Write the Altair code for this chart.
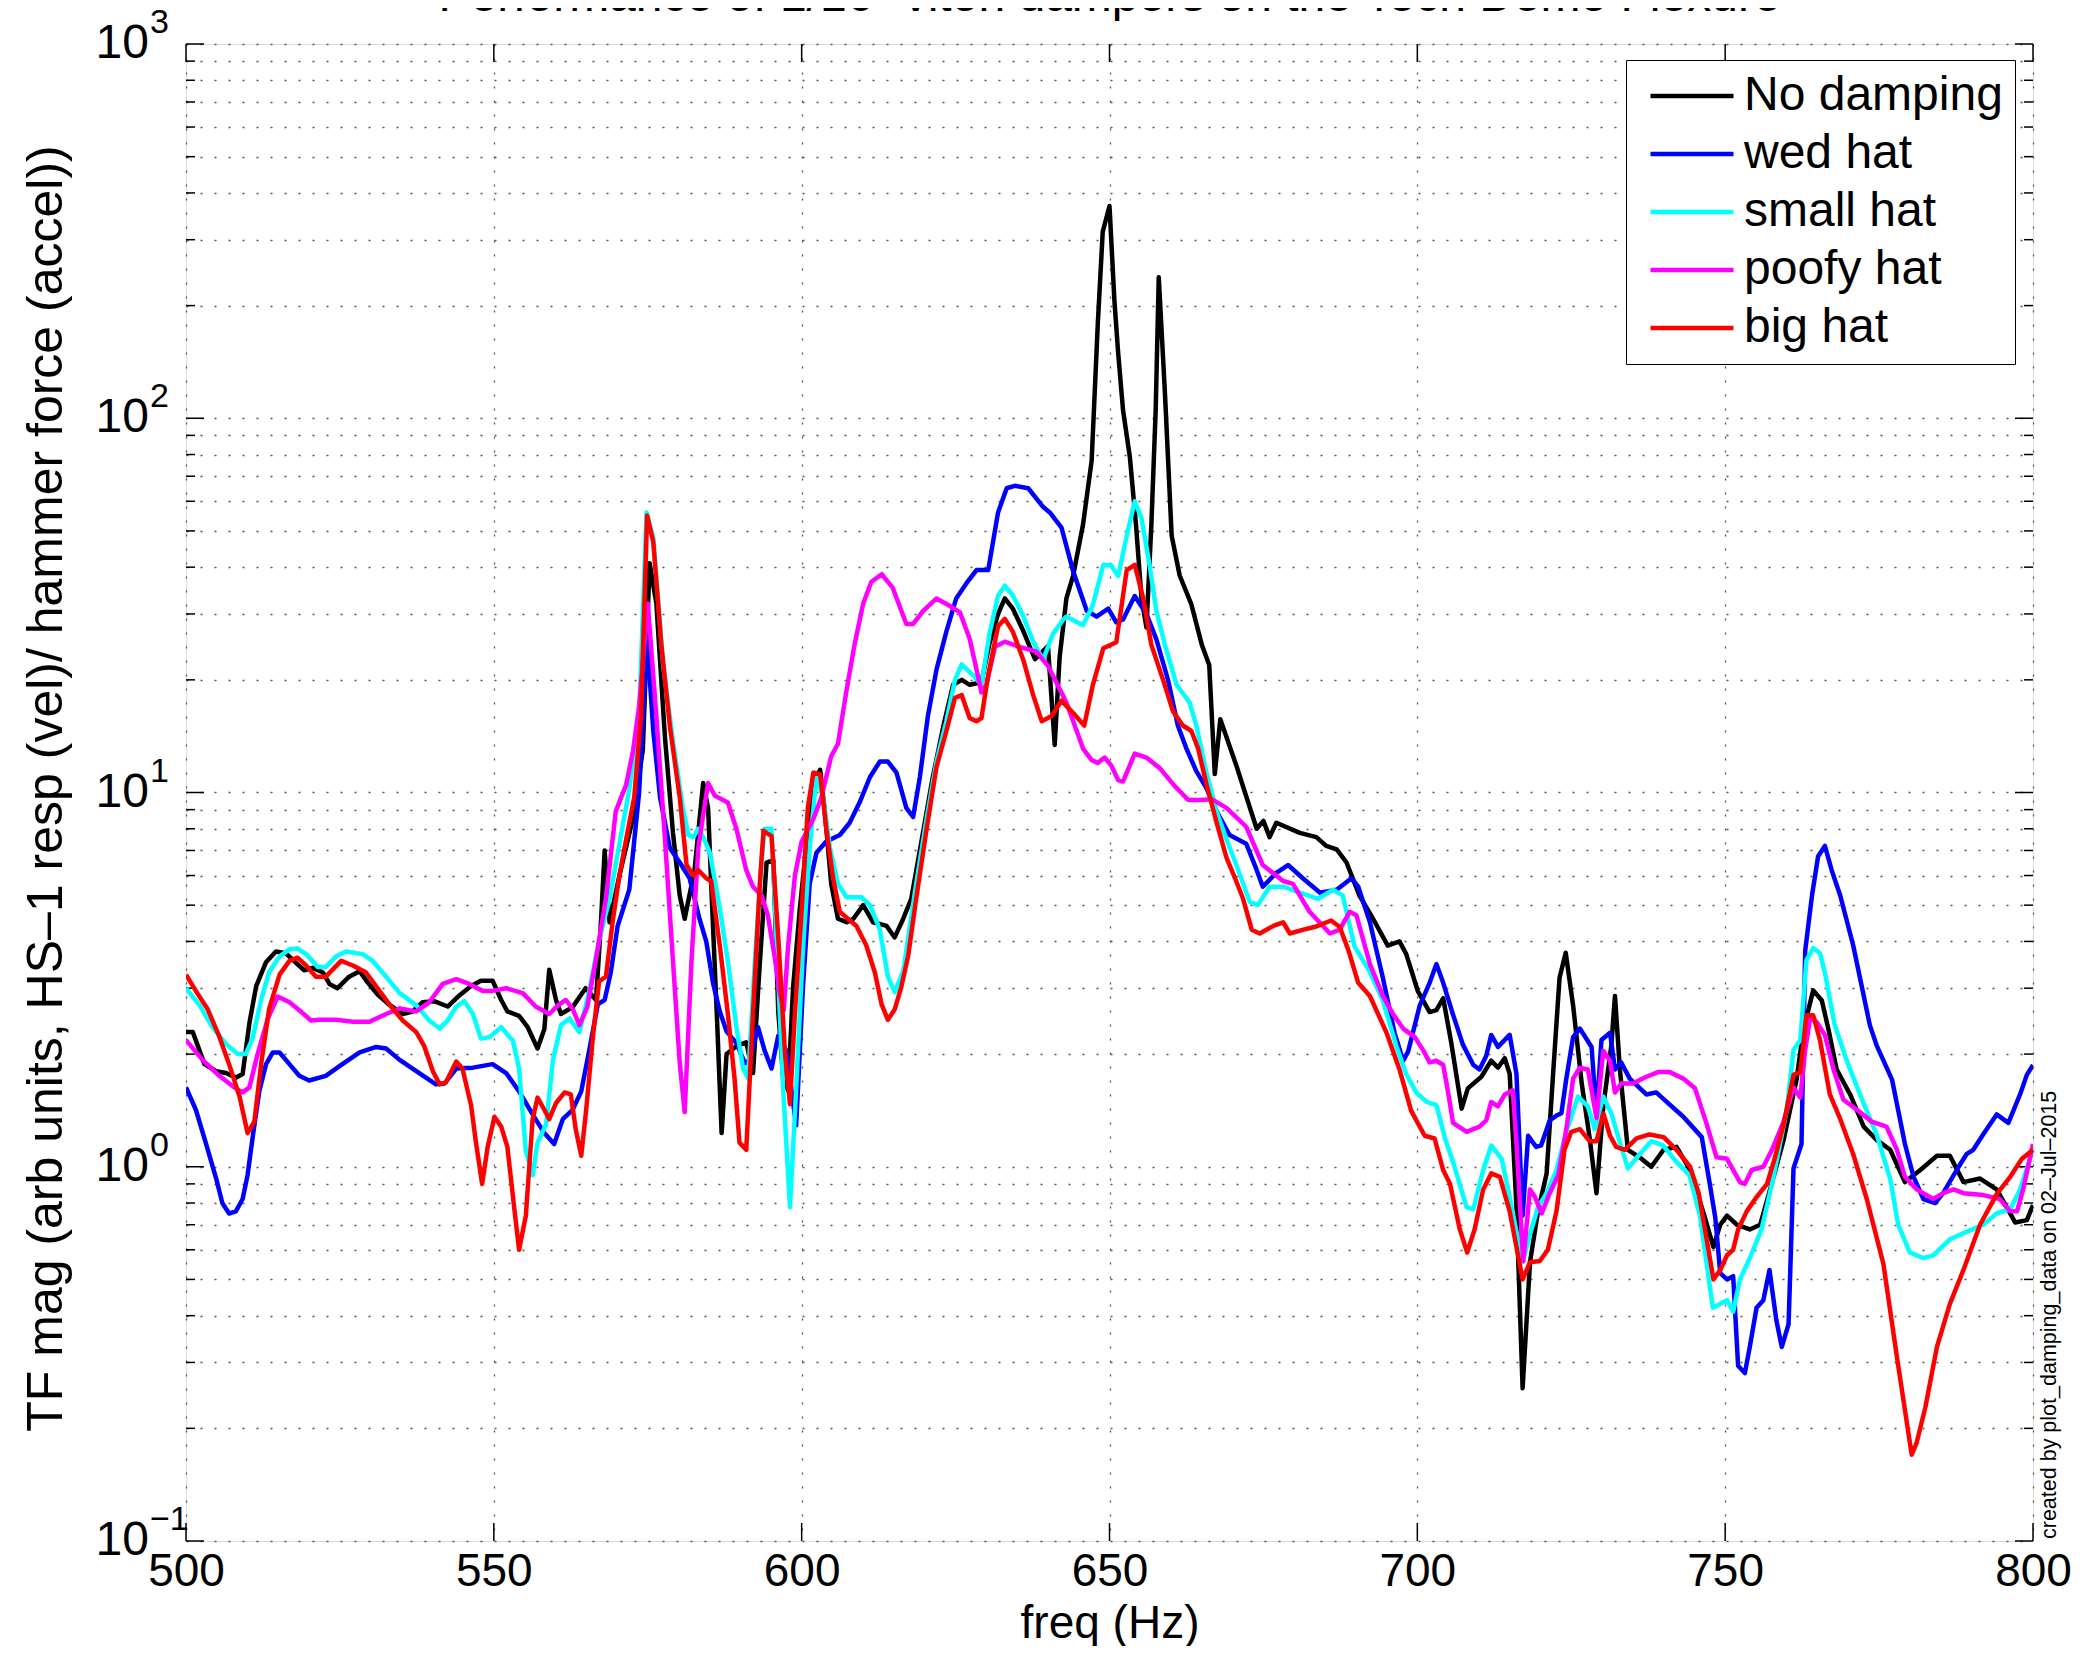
import altair as alt
import pandas as pd

FONT = "Liberation Sans"

title_text = "Performance of 1/16\" viton dampers on the Tech Demo Flexure"
x_title = "freq (Hz)"
y_title = "TF mag (arb units, HS\u20131 resp (vel)/ hammer force (accel))"
stamp_text = "created by plot_damping_data on 02\u2013Jul\u20132015"

series_names = ["No damping", "wed hat", "small hat", "poofy hat", "big hat"]
series_colors = ["#000000", "#0000ff", "#00ffff", "#ff00ff", "#ff0000"]

x_ticks = [500, 550, 600, 650, 700, 750, 800]
y_major = [0.1, 1, 10, 100, 1000]
y_exps = ["\u22121", "0", "1", "2", "3"]
y_minor = [m * d for d in [0.1, 1, 10, 100] for m in [2, 3, 4, 5, 6, 7, 8, 9]]

black_f = [500, 501.1, 503, 504.9, 506.5, 508.1, 509.2, 510.3, 511.4, 513, 514.6, 516.2, 517.9, 519.2, 520.6, 522.2, 523.3, 524.6, 526.5, 528.2, 529.5, 531.1, 533.0, 535.2, 536.8, 538.4, 540.3, 542.5, 544.4, 546.3, 547.9, 549.8, 551.2, 552.2, 554.1, 555.5, 557.1, 558.2, 559.0, 560.1, 560.9, 562.8, 564.9, 566.6, 567.4, 568.0, 568.8, 570.4, 572.5, 574.2, 575.3, 576.4, 577.8, 579.1, 580.2, 581.0, 582.6, 584.0, 584.8, 585.3, 586.2, 587.0, 587.8, 589.4, 591.0, 592.1, 593.2, 594.3, 595.4, 596.2, 597.0, 597.8, 598.6, 599.7, 600.8, 601.9, 603.0, 603.7, 604.8, 605.9, 607.3, 608.4, 610.0, 611.6, 613.8, 615.1, 616.5, 617.8, 619.7, 621.3, 623.0, 624.6, 626.0, 627.3, 629.2, 630.5, 631.9, 633.0, 634.3, 636.0, 637.9, 640.0, 641.1, 641.9, 643.0, 644.1, 645.7, 647.1, 648.1, 648.9, 650.0, 650.8, 651.4, 652.2, 653.3, 654.3, 655.2, 656.0, 656.8, 657.5, 658.0, 659.0, 660.1, 661.4, 663.3, 665.0, 666.2, 667.1, 668.0, 670.6, 673.9, 675.0, 676.0, 677.1, 680.9, 683.6, 685.2, 686.9, 688.5, 690.6, 692.8, 695.2, 697.1, 698.2, 700.1, 702.0, 703.1, 704.2, 705.5, 707.2, 708.2, 710.4, 712.0, 713.1, 714.2, 715.0, 716.1, 717.1, 718.3, 719.6, 721.0, 722.1, 723.1, 724.1, 725.3, 726.7, 728.0, 729.1, 730.2, 731.5, 732.1, 732.9, 734.2, 736.1, 738.0, 740.0, 742.1, 744.3, 746.5, 748.1, 749.2, 750.3, 751.9, 754.0, 755.7, 757.3, 759.5, 761.6, 762.7, 764.3, 765.7, 766.8, 768.1, 770.3, 772.5, 774.6, 776.8, 779.2, 781.7, 784.4, 786.5, 788.7, 791.4, 794.1, 797.1, 799.0, 800.0]
black_v = [2.29, 2.29, 1.88, 1.80, 1.78, 1.73, 1.77, 2.42, 3.04, 3.52, 3.76, 3.72, 3.5, 3.35, 3.4, 3.31, 3.08, 3.0, 3.22, 3.33, 3.11, 2.89, 2.71, 2.56, 2.6, 2.75, 2.77, 2.68, 2.87, 3.04, 3.14, 3.14, 2.79, 2.6, 2.53, 2.36, 2.07, 2.33, 3.36, 2.79, 2.56, 2.67, 3.0, 2.79, 4.5, 7.0, 4.5, 6.0, 8.4, 13, 41, 32, 14, 7.8, 5.3, 4.6, 6.2, 10.6, 9.1, 5.7, 2.6, 1.23, 2.0, 2.1, 2.15, 1.78, 3.5, 6.5, 6.6, 2.6, 1.72, 1.6, 3.0, 4.9, 7.3, 10.6, 11.5, 9.1, 5.7, 4.6, 4.5, 4.6, 5.0, 4.5, 4.4, 4.1, 4.6, 5.2, 7.8, 11, 15, 19.4, 20, 19.4, 19.7, 25, 30, 33, 31, 27, 22.7, 24.6, 13.4, 23, 33, 38, 52, 77, 179, 315, 369, 206, 150, 105, 79, 52, 33, 27.6, 52, 105, 238, 117, 48.5, 38, 31.8, 24.8, 21.9, 11.2, 15.7, 11.8, 8.0, 8.4, 7.6, 8.3, 7.8, 7.6, 7.2, 7.05, 6.5, 5.3, 4.6, 3.9, 4.0, 3.7, 2.94, 2.59, 2.62, 2.82, 2.15, 1.43, 1.62, 1.74, 1.92, 1.84, 1.95, 1.77, 0.78, 0.256, 0.556, 0.76, 0.96, 1.82, 3.2, 3.73, 2.7, 1.67, 1.19, 0.85, 1.45, 2.1, 2.86, 1.82, 1.11, 1.06, 1.0, 1.11, 1.13, 0.98, 0.75, 0.61, 0.70, 0.74, 0.70, 0.68, 0.70, 0.87, 1.18, 1.71, 2.32, 2.96, 2.78, 2.32, 1.82, 1.56, 1.28, 1.18, 1.11, 0.91, 0.98, 1.07, 1.07, 0.91, 0.93, 0.87, 0.71, 0.72, 0.79]

blue_f = [500, 501.6, 503.2, 504.9, 505.9, 507.0, 508.1, 509.2, 510.0, 510.8, 511.9, 513.0, 514.1, 515.2, 516.8, 518.4, 520.0, 522.7, 525.4, 528.2, 530.9, 532.5, 534.7, 537.4, 540.6, 542.0, 543.9, 546.6, 549.8, 552.0, 554.1, 556.3, 558.2, 559.8, 561.2, 562.8, 564.2, 565.5, 566.9, 568.0, 569.0, 570.1, 572.0, 573.6, 574.9, 575.9, 577.0, 578.6, 580.2, 581.8, 583.4, 584.5, 585.6, 586.7, 587.8, 589.4, 590.8, 591.6, 592.9, 594.0, 595.1, 596.2, 597.5, 599.1, 600.2, 601.3, 602.4, 604.0, 606.2, 607.8, 609.4, 611.1, 612.7, 614.0, 615.4, 617.0, 618.1, 619.2, 620.5, 621.9, 623.5, 625.1, 626.8, 628.4, 630.3, 631.9, 633.3, 634.6, 636.8, 639.2, 640.3, 642.2, 644.1, 646.3, 647.9, 649.8, 651.1, 652.2, 654.1, 656.0, 657.6, 659.5, 661.1, 662.5, 664.1, 665.7, 667.4, 669.5, 672.2, 673.6, 674.9, 677.1, 679.0, 681.4, 684.2, 686.9, 689.3, 690.4, 692.3, 694.4, 696.3, 697.7, 698.5, 700.4, 702.0, 703.1, 704.2, 705.8, 707.4, 709.1, 710.1, 711.2, 712.0, 713.1, 715.0, 716.1, 717.1, 718.0, 719.3, 720.1, 721.5, 722.6, 723.4, 724.2, 725.3, 726.4, 728.3, 729.1, 729.9, 731.3, 732.1, 733.1, 734.5, 737.2, 738.8, 740.5, 743.2, 746.2, 747.5, 748.4, 749.2, 750.3, 751.3, 752.1, 753.2, 754.0, 755.1, 756.2, 757.2, 758.3, 759.2, 760.3, 761.1, 762.4, 763.0, 764.1, 765.1, 766.2, 767.3, 768.7, 770.8, 773.5, 774.6, 777.1, 779.2, 780.6, 782.2, 784.1, 785.4, 787.6, 789.2, 790.3, 791.9, 794.1, 796.0, 797.9, 799.0, 800.0]
blue_v = [1.63, 1.42, 1.16, 0.93, 0.80, 0.75, 0.76, 0.82, 0.95, 1.19, 1.59, 1.88, 2.02, 2.02, 1.88, 1.75, 1.70, 1.75, 1.88, 2.02, 2.09, 2.07, 1.93, 1.8, 1.66, 1.67, 1.83, 1.84, 1.88, 1.78, 1.59, 1.38, 1.23, 1.15, 1.34, 1.42, 1.59, 2.05, 2.72, 2.79, 3.31, 4.39, 5.5, 10, 25.7, 14.6, 9.7, 7.1, 6.5, 5.9, 4.6, 4.0, 3.1, 2.6, 2.3, 2.14, 1.89, 1.93, 2.36, 2.04, 1.83, 2.24, 2.04, 1.29, 3.0, 5.7, 6.9, 7.4, 7.7, 8.3, 9.4, 11, 12.1, 12.1, 11.3, 9.1, 8.6, 11, 16, 21.3, 26.9, 33, 36.3, 39.3, 39.3, 56, 65, 66, 65, 58, 56, 51, 39, 30.6, 29.5, 31, 28.5, 29, 33.5, 30, 25.7, 20, 15.1, 13.1, 11.4, 10.3, 8.9, 7.7, 7.3, 6.4, 5.6, 6.1, 6.4, 5.9, 5.4, 5.5, 5.9, 5.6, 4.5, 3.2, 2.28, 1.92, 2.03, 2.7, 3.1, 3.48, 3.1, 2.55, 2.12, 1.87, 1.82, 1.98, 2.25, 2.09, 2.25, 1.77, 0.74, 1.21, 1.13, 1.14, 1.33, 1.37, 1.39, 1.72, 2.22, 2.34, 2.09, 1.37, 2.18, 2.28, 1.82, 1.9, 1.72, 1.56, 1.58, 1.49, 1.36, 1.2, 0.9, 0.73, 0.52, 0.5, 0.51, 0.294, 0.281, 0.33, 0.42, 0.44, 0.53, 0.39, 0.33, 0.38, 0.99, 1.15, 3.78, 5.3, 6.76, 7.2, 6.2, 5.3, 3.9, 2.39, 2.11, 1.71, 1.15, 0.94, 0.82, 0.8, 0.85, 0.98, 1.08, 1.11, 1.22, 1.38, 1.31, 1.56, 1.76, 1.87]

cyan_f = [500, 502.2, 504.3, 506.5, 508.4, 509.7, 510.8, 512.2, 513.5, 515.2, 516.8, 518.1, 519.5, 521.4, 522.7, 524.4, 526.0, 528.7, 530.3, 532.5, 534.7, 537.4, 539.5, 541.2, 542.5, 543.9, 545.2, 546.6, 547.9, 549.3, 551.2, 553.1, 554.1, 555.2, 556.3, 557.1, 558.5, 559.6, 560.9, 562.3, 563.9, 565.5, 567.1, 568.8, 570.4, 572.0, 573.6, 574.8, 575.9, 577.5, 579.1, 580.7, 581.6, 582.4, 583.2, 584.0, 585.1, 586.7, 588.0, 589.4, 590.5, 591.3, 592.4, 593.5, 594.0, 595.1, 595.9, 597.0, 598.1, 599.1, 600.2, 601.3, 602.4, 603.5, 604.6, 605.9, 607.3, 609.7, 611.1, 612.7, 614.0, 615.1, 616.5, 617.5, 618.6, 620.3, 621.9, 623.5, 624.9, 626.0, 627.8, 629.2, 630.5, 631.9, 633.0, 634.3, 636.0, 637.6, 639.2, 640.8, 642.5, 643.0, 645.7, 647.3, 649.0, 650.3, 651.4, 652.8, 654.1, 655.2, 656.5, 657.6, 659.0, 660.9, 663.0, 664.1, 665.7, 667.4, 669.0, 670.6, 672.8, 674.1, 676.0, 678.2, 680.9, 683.9, 686.3, 687.9, 689.8, 692.3, 694.4, 696.6, 698.2, 699.8, 701.5, 703.1, 704.5, 705.8, 708.0, 709.1, 710.7, 712.0, 713.7, 715.0, 716.1, 717.1, 718.3, 719.6, 721.0, 722.6, 724.2, 726.1, 727.7, 728.8, 730.2, 731.5, 732.9, 734.2, 736.1, 738.0, 739.9, 742.1, 744.2, 745.9, 748.0, 750.3, 751.3, 752.4, 754.0, 755.9, 757.8, 760.0, 761.1, 762.2, 763.2, 764.3, 765.4, 766.2, 767.8, 769.7, 771.9, 774.6, 776.8, 778.1, 780.0, 782.2, 783.8, 786.5, 789.2, 791.9, 794.1, 796.3, 797.9, 799.5, 800.0]
cyan_v = [3.0, 2.7, 2.36, 2.13, 2.0, 2.0, 2.2, 2.79, 3.31, 3.65, 3.81, 3.83, 3.7, 3.42, 3.42, 3.65, 3.76, 3.7, 3.55, 3.22, 2.91, 2.7, 2.46, 2.34, 2.46, 2.68, 2.77, 2.56, 2.2, 2.22, 2.36, 2.17, 1.83, 1.1, 0.95, 1.16, 1.3, 1.93, 2.39, 2.49, 2.29, 2.95, 4.03, 5.2, 7.3, 10.2, 16, 56, 48, 22, 13.7, 9.1, 7.7, 7.6, 8.0, 7.6, 6.9, 4.9, 3.55, 2.36, 1.83, 1.72, 3.55, 6.6, 8.0, 8.0, 4.1, 1.61, 0.78, 1.61, 3.8, 7.1, 11, 9.7, 7.1, 5.7, 5.25, 5.25, 5.0, 4.3, 3.22, 2.93, 3.33, 4.3, 5.7, 8.5, 12.1, 15.5, 20, 22, 20.6, 19.4, 26.5, 33.6, 35.7, 33.6, 29.6, 25.3, 22.6, 26.5, 29, 29.5, 28, 31.7, 40.6, 40.4, 37.9, 48.5, 60, 54, 40.6, 30.6, 24.8, 19.4, 17.4, 15.1, 11.4, 8.9, 7.5, 6.4, 5.1, 5.0, 5.6, 5.6, 5.4, 5.2, 5.5, 5.3, 3.88, 3.31, 2.78, 2.1, 1.77, 1.58, 1.49, 1.46, 1.19, 1.03, 0.78, 0.77, 0.98, 1.14, 1.05, 0.83, 0.67, 0.556, 0.66, 0.78, 0.85, 0.98, 1.24, 1.54, 1.45, 1.26, 1.54, 1.39, 1.16, 0.99, 1.08, 1.17, 1.14, 1.03, 0.95, 0.74, 0.42, 0.44, 0.41, 0.5, 0.57, 0.68, 0.93, 1.42, 2.05, 2.18, 3.56, 3.84, 3.72, 3.3, 2.39, 1.93, 1.56, 1.22, 0.93, 0.70, 0.59, 0.57, 0.58, 0.64, 0.67, 0.70, 0.75, 0.77, 0.87, 1.05, 1.11]

magenta_f = [500, 502.7, 505.4, 507.6, 509.2, 510.3, 511.6, 513.3, 514.9, 516.8, 518.4, 520.3, 521.7, 524.4, 527.1, 529.8, 532.5, 534.7, 537.4, 539.5, 541.7, 543.9, 546.0, 548.2, 549.8, 552.0, 554.7, 556.8, 559.0, 560.4, 561.7, 562.8, 563.9, 565.2, 566.6, 568.2, 569.8, 571.5, 572.6, 573.6, 575.0, 576.4, 577.8, 579.1, 580.2, 581.0, 582.1, 583.2, 584.8, 585.9, 588.0, 589.4, 591.0, 592.1, 593.5, 594.5, 595.6, 596.4, 597.1, 597.8, 598.9, 600.0, 601.9, 603.2, 604.8, 605.9, 607.3, 608.6, 610.0, 611.3, 613.0, 614.8, 617.0, 618.1, 619.7, 621.9, 624.1, 625.7, 627.3, 628.4, 629.2, 630.0, 631.4, 633.0, 635.4, 638.1, 640.0, 643.0, 645.7, 647.1, 648.1, 649.2, 650.3, 651.4, 652.2, 654.1, 656.0, 658.2, 660.6, 662.8, 664.7, 666.6, 669.0, 672.2, 674.9, 678.2, 679.8, 682.5, 685.8, 687.4, 689.0, 690.1, 692.3, 694.4, 696.1, 697.7, 699.6, 701.0, 702.0, 703.1, 704.2, 705.0, 705.8, 708.0, 710.1, 711.2, 712.0, 713.1, 714.2, 715.5, 716.1, 717.2, 718.3, 719.1, 720.2, 721.5, 722.9, 724.2, 725.3, 726.4, 727.7, 729.1, 730.2, 731.3, 732.1, 733.1, 735.0, 737.2, 739.1, 741.0, 743.2, 745.1, 747.0, 748.6, 750.3, 752.4, 753.2, 754.3, 756.2, 757.6, 759.5, 761.1, 762.2, 763.0, 763.8, 764.9, 766.2, 767.6, 769.2, 771.4, 773.8, 776.2, 777.9, 779.2, 781.1, 783.8, 785.4, 787.1, 788.7, 791.9, 794.6, 796.3, 797.4, 798.4, 800.0]
magenta_v = [2.18, 1.93, 1.75, 1.64, 1.58, 1.63, 1.99, 2.49, 2.85, 2.75, 2.62, 2.46, 2.47, 2.47, 2.44, 2.44, 2.56, 2.65, 2.6, 2.75, 3.08, 3.17, 3.08, 2.95, 2.95, 3.0, 2.91, 2.68, 2.56, 2.7, 2.79, 2.64, 2.39, 2.68, 3.6, 5.2, 8.9, 10.5, 12.9, 17, 32, 16, 7.5, 3.54, 1.89, 1.4, 3.54, 7.1, 10.6, 9.8, 9.4, 8.0, 6.2, 5.6, 5.3, 4.7, 3.65, 2.93, 2.62, 3.89, 6.0, 7.4, 8.5, 9.7, 12.5, 13.5, 18.8, 24.9, 32, 36.5, 38.3, 35.2, 28.2, 28.2, 30.5, 33, 31.5, 30.3, 25.7, 21.3, 18.5, 19.4, 24.5, 25.3, 24.5, 23.8, 21.8, 17.4, 13.1, 12.2, 12.0, 12.4, 11.8, 10.8, 10.7, 12.7, 12.4, 11.6, 10.4, 9.55, 9.55, 9.6, 9.1, 8.1, 6.4, 5.8, 5.7, 4.8, 4.2, 4.3, 4.8, 4.7, 3.48, 2.86, 2.55, 2.34, 2.22, 2.04, 1.9, 1.92, 1.87, 1.58, 1.31, 1.24, 1.28, 1.33, 1.49, 1.45, 1.56, 1.6, 1.16, 0.56, 0.87, 0.83, 0.75, 0.85, 0.95, 1.26, 1.72, 1.84, 1.82, 1.35, 2.04, 1.92, 1.58, 1.67, 1.67, 1.74, 1.79, 1.79, 1.72, 1.62, 1.30, 1.06, 1.05, 0.91, 0.9, 0.98, 1.0, 1.11, 1.32, 1.63, 1.53, 2.05, 2.5, 2.43, 2.25, 1.82, 1.51, 1.42, 1.32, 1.28, 1.11, 0.94, 0.87, 0.82, 0.85, 0.87, 0.85, 0.84, 0.82, 0.76, 0.76, 0.87, 1.15]

red_f = [500, 501.6, 503.5, 505.4, 507.0, 508.7, 510.0, 511.1, 512.2, 513.5, 515.2, 516.8, 518.1, 519.5, 521.1, 522.7, 525.2, 527.1, 529.2, 531.1, 533.3, 535.2, 537.4, 538.7, 540.1, 541.2, 542.2, 543.9, 544.9, 546.3, 547.1, 548.1, 549.0, 550.1, 551.2, 552.2, 553.3, 554.1, 555.2, 556.3, 557.1, 558.2, 559.0, 560.1, 561.5, 562.5, 563.3, 564.2, 565.0, 566.1, 567.1, 568.2, 569.3, 570.4, 571.5, 572.8, 573.9, 574.9, 575.9, 577.2, 578.6, 580.2, 581.3, 582.4, 583.2, 584.5, 585.3, 586.7, 588.0, 589.1, 589.9, 591.0, 592.1, 593.2, 593.8, 595.1, 596.2, 597.3, 598.1, 598.9, 600.0, 601.0, 601.9, 603.0, 604.0, 605.1, 606.2, 607.5, 608.9, 610.5, 611.9, 613.0, 614.0, 615.1, 616.2, 617.3, 618.6, 620.3, 621.9, 623.5, 624.9, 626.0, 627.3, 628.4, 629.2, 630.3, 631.9, 633.0, 634.3, 636.0, 637.6, 639.0, 640.6, 642.2, 644.1, 645.9, 647.3, 649.0, 651.1, 652.8, 654.1, 655.5, 656.8, 658.7, 660.3, 661.9, 663.3, 664.4, 665.7, 667.4, 669.0, 670.4, 671.7, 673.1, 674.4, 676.6, 678.2, 679.3, 681.5, 683.3, 686.0, 687.4, 688.8, 690.4, 692.3, 695.0, 697.1, 699.0, 701.2, 702.8, 704.2, 705.3, 706.9, 708.1, 709.3, 710.7, 712.0, 713.4, 715.0, 716.1, 717.1, 718.3, 719.9, 721.2, 722.6, 723.9, 725.0, 726.4, 728.0, 729.1, 730.2, 731.3, 732.3, 733.7, 735.6, 737.7, 740.0, 742.1, 744.3, 745.7, 747.0, 748.1, 749.2, 750.3, 751.3, 752.1, 753.5, 755.1, 756.8, 758.1, 759.5, 761.1, 762.2, 763.2, 764.3, 765.4, 767.0, 768.7, 770.8, 773.0, 775.7, 777.9, 780.3, 781.1, 782.5, 784.4, 786.5, 788.7, 791.4, 794.1, 796.3, 798.2, 800.0]
red_v = [3.26, 2.95, 2.64, 2.23, 1.88, 1.54, 1.23, 1.32, 1.88, 2.64, 3.26, 3.55, 3.62, 3.45, 3.22, 3.22, 3.55, 3.45, 3.31, 3.0, 2.68, 2.46, 2.29, 2.1, 1.8, 1.66, 1.68, 1.91, 1.83, 1.46, 1.16, 0.9, 1.13, 1.36, 1.28, 1.13, 0.78, 0.6, 0.74, 1.34, 1.53, 1.42, 1.34, 1.48, 1.58, 1.56, 1.26, 1.07, 1.42, 2.23, 3.13, 3.22, 4.52, 6.0, 7.5, 9.7, 16, 55, 46.6, 24.9, 15, 9.7, 6.4, 6.0, 6.2, 5.9, 5.8, 3.9, 2.57, 1.72, 1.16, 1.11, 2.57, 5.7, 7.9, 7.65, 4.1, 2.0, 1.47, 2.57, 4.85, 9.1, 11.3, 11.2, 8.0, 5.9, 4.8, 4.6, 4.4, 3.9, 3.3, 2.71, 2.47, 2.63, 3.03, 3.66, 5.2, 8.0, 11.7, 14.6, 17.9, 18.2, 15.8, 15.5, 15.8, 20.6, 27.8, 29.1, 26.9, 22.6, 18.2, 15.5, 16, 17.6, 16.3, 15.1, 19.4, 24.3, 25.2, 39.3, 40.6, 32.9, 24.8, 20, 16.5, 15.1, 14.6, 13.1, 10.6, 8.3, 6.7, 5.9, 5.2, 4.3, 4.2, 4.4, 4.5, 4.2, 4.3, 4.37, 4.55, 4.37, 3.79, 3.1, 2.86, 2.28, 1.82, 1.41, 1.21, 1.19, 0.98, 0.9, 0.68, 0.59, 0.68, 0.87, 0.96, 0.94, 0.76, 0.61, 0.5, 0.556, 0.56, 0.6, 0.76, 1.11, 1.24, 1.26, 1.17, 1.17, 1.39, 1.21, 1.13, 1.11, 1.19, 1.22, 1.2, 1.11, 1.0, 0.85, 0.64, 0.5, 0.53, 0.58, 0.6, 0.68, 0.76, 0.83, 0.9, 1.06, 1.30, 1.76, 1.79, 2.54, 2.54, 2.18, 1.56, 1.34, 1.08, 0.82, 0.55, 0.31, 0.17, 0.183, 0.227, 0.33, 0.43, 0.53, 0.70, 0.845, 0.94, 1.05, 1.11]

W, H = 1847, 1497

all_f = [black_f, blue_f, cyan_f, magenta_f, red_f]
all_v = [black_v, blue_v, cyan_v, magenta_v, red_v]

xscale = alt.Scale(domain=[500, 800], nice=False, zero=False)
yscale = alt.Scale(type="log", domain=[0.1, 1000], nice=False)

x_axis = alt.Axis(
    values=x_ticks, grid=True, ticks=False, domain=False, labels=True,
    labelFont=FONT, labelFontSize=46, labelColor="black", labelPadding=8,
    labelFlush=False, labelOverlap=False,
    gridColor="#555555", gridDash=[2, 12], gridWidth=1.3,
    title=x_title, titleFont=FONT, titleFontSize=46, titleFontWeight="normal",
    titleColor="black", titleX=W / 2, titleY=82, titleBaseline="middle", titleAlign="center",
)
y_axis = alt.Axis(
    values=sorted(y_minor + y_major), grid=True, ticks=False, domain=False, labels=False,
    gridColor="#555555", gridDash=[2, 12], gridWidth=1.3,
    title=y_title, titleFont=FONT, titleFontSize=50, titleFontWeight="normal",
    titleColor="black", titleX=-140, titleY=744, titleAngle=270,
    titleBaseline="middle", titleAlign="center",
)

X = alt.X("freq:Q", scale=xscale, axis=x_axis)
Y = alt.Y("mag:Q", scale=yscale, axis=y_axis)

legend = alt.Legend(
    orient="none", legendX=1440, legendY=16, title=None,
    symbolType="M-2,0H2", symbolSize=1722, symbolStrokeWidth=4.5,
    labelFont=FONT, labelFontSize=48, labelColor="black", labelLimit=600,
    padding=12, rowPadding=10, labelOffset=28, symbolOffset=30,
    strokeColor="black", fillColor="white",
)
color = alt.Color("series:N", scale=alt.Scale(domain=series_names, range=series_colors), legend=legend)

layers = []

# tick marks (inward, on all four sides)
ymaj_df = pd.DataFrame({"mag": y_major})
ymin_df = pd.DataFrame({"mag": y_minor})
xt_df = pd.DataFrame({"freq": x_ticks})
tick_style = dict(color="black", strokeWidth=1.5)
layers.append(alt.Chart(ymaj_df).mark_rule(**tick_style).encode(y=Y, x=alt.value(0), x2=alt.value(18)))
layers.append(alt.Chart(ymin_df).mark_rule(**tick_style).encode(y=Y, x=alt.value(0), x2=alt.value(9)))
layers.append(alt.Chart(ymaj_df).mark_rule(**tick_style).encode(y=Y, x=alt.value(W - 18), x2=alt.value(W)))
layers.append(alt.Chart(ymin_df).mark_rule(**tick_style).encode(y=Y, x=alt.value(W - 9), x2=alt.value(W)))
layers.append(alt.Chart(xt_df).mark_rule(**tick_style).encode(x=X, y=alt.value(H - 18), y2=alt.value(H)))
layers.append(alt.Chart(xt_df).mark_rule(**tick_style).encode(x=X, y=alt.value(0), y2=alt.value(18)))

# data lines, drawn in plotting order
for name, f, v in zip(series_names, all_f, all_v):
    df = pd.DataFrame({"freq": f, "mag": v, "series": name})
    layers.append(
        alt.Chart(df).mark_line(strokeWidth=4.5, clip=True, strokeJoin="round")
        .encode(x=X, y=Y, color=color, order="freq:Q")
    )

# y tick labels 10^k
lab_df = pd.DataFrame({"mag": y_major, "exp": y_exps})
layers.append(
    alt.Chart(lab_df).mark_text(align="right", baseline="middle", dx=-37, font=FONT, fontSize=48, color="black")
    .encode(y=Y, x=alt.value(0), text=alt.value("10"))
)
layers.append(
    alt.Chart(lab_df).mark_text(align="left", baseline="middle", dx=-36, dy=-21, font=FONT, fontSize=34, color="black")
    .encode(y=Y, x=alt.value(0), text="exp:N")
)

# title (partly cut at the top, as in the original) and the creation stamp
layers.append(
    alt.Chart(pd.DataFrame({"t": [title_text]})).mark_text(align="center", baseline="alphabetic", font=FONT, fontSize=48, color="black")
    .encode(x=alt.value(W / 2), y=alt.value(-33), text="t:N")
)
layers.append(
    alt.Chart(pd.DataFrame({"t": [stamp_text]})).mark_text(align="left", baseline="middle", angle=270, font=FONT, fontSize=21.5, color="black")
    .encode(x=alt.value(W + 17), y=alt.value(H - 2), text="t:N")
)

chart = alt.layer(*layers).properties(
    width=W, height=H,
    autosize=alt.AutoSizeParams(type="none"),
    padding={"left": 178, "top": 36, "right": 40, "bottom": 105},
).configure_view(stroke="black", strokeWidth=2.5).configure(background="white")

chart.save("out.html", embed_options={"renderer": "svg", "actions": False})
